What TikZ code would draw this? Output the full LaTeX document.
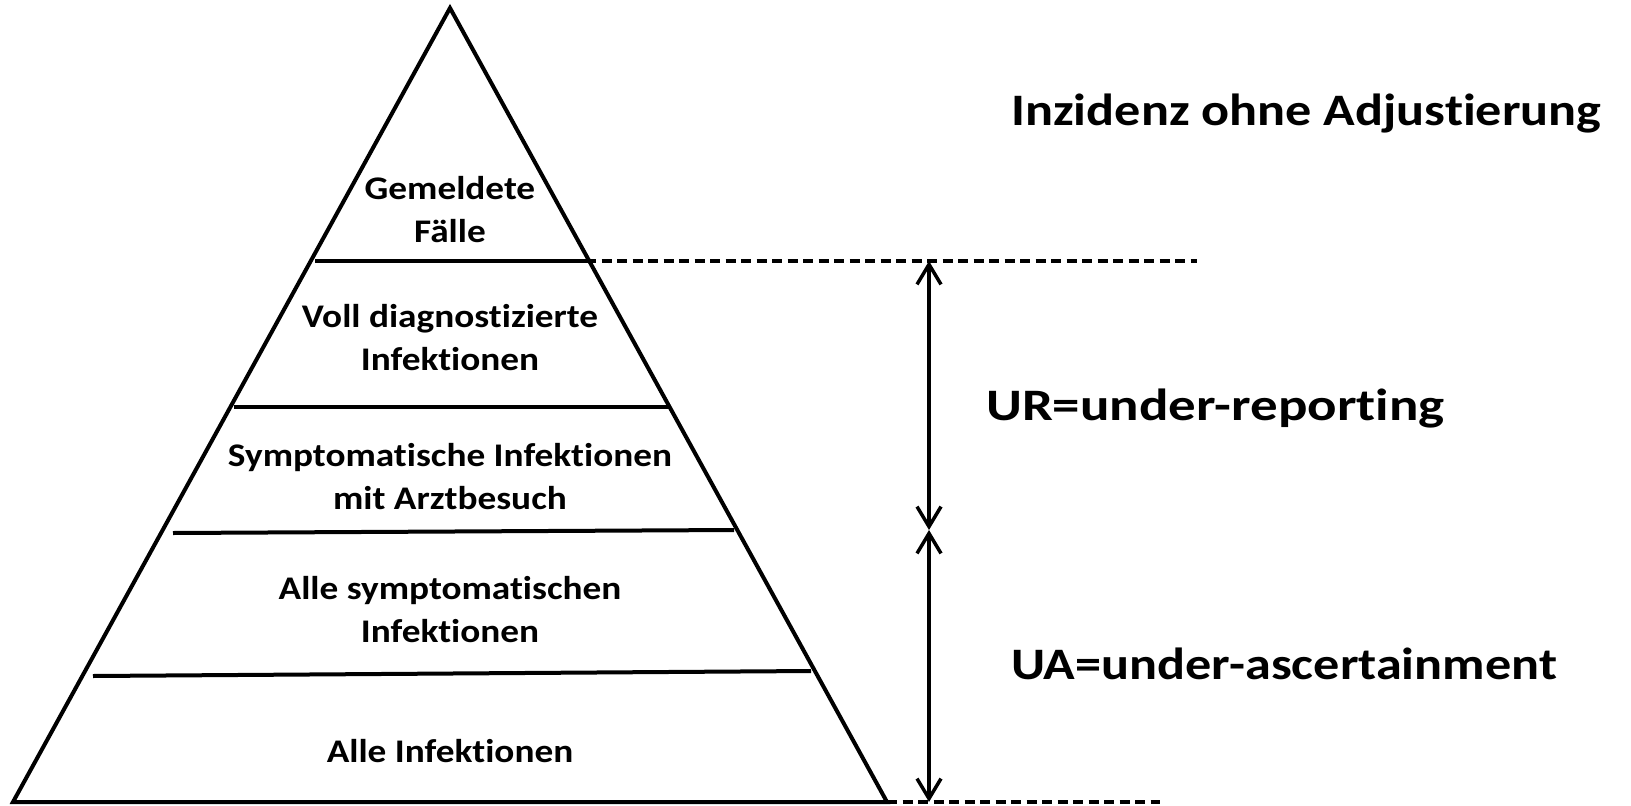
\documentclass[tikz,border=0pt]{standalone}
\usepackage{fontspec}
\setmainfont[Ligatures=NoCommon, FakeStretch=1.13]{Carlito}
\newfontfamily\sidefont[Ligatures=NoCommon, FakeStretch=1.16]{Carlito}
\newfontfamily\urfont[Ligatures=NoCommon, FakeStretch=1.22]{Carlito}
\usepackage{tikz}
\usetikzlibrary{arrows.meta,calc}
\definecolor{ink}{HTML}{000000}
\tikzset{
  lvl/.style={font=\bfseries\fontsize{33}{43}\selectfont, align=center, inner sep=0pt},
  side/.style={font=\sidefont\bfseries\fontsize{45}{54}\selectfont, anchor=base west, inner sep=0pt},
  cut/.style={line width=4pt, ink},
  guide/.style={line width=3.5pt, ink, dash pattern=on 10pt off 5.5pt},
  span/.style={line width=3.5pt, ink, {Straight Barb[length=20pt,width=24pt]}-{Straight Barb[length=20pt,width=24pt]}}
}
\begin{document}
\begin{tikzpicture}[x=1pt, y=-1pt]
\useasboundingbox (0,0) rectangle (1631,806);
% pyramid outline
\coordinate (top) at (450,8);
\coordinate (bl) at (13,802);
\coordinate (br) at (887,802);
\draw[line width=4pt, ink, line join=miter] (bl) -- (top) -- (br) -- cycle;
% layer borders
\draw[cut] (315,261) coordinate (c1l) -- (586,261) coordinate (c1r);
\draw[cut] (234,407) -- (670,407);
\draw[cut] (173,533) -- (734,530);
\draw[cut] (93,676) -- (811,671);
% layer labels
\node[lvl] (gem) at (450,210) {Gemeldete\\Fälle};
\node[lvl] (voll) at (450,338) {Voll diagnostizierte\\Infektionen};
\node[lvl] (arzt) at (450,477) {Symptomatische Infektionen\\mit Arztbesuch};
\node[lvl] (symp) at (450,610) {Alle symptomatischen\\Infektionen};
\node[lvl, anchor=base] (alle) at (450,762) {Alle Infektionen};
% reference lines and spans
\coordinate (dtop) at (1197,261);
\coordinate (dbot) at (1160,802);
\draw[guide] (c1r) -- (dtop);
\draw[guide] (br) -- (dbot);
\coordinate (ur) at (929,261);
\coordinate (mid) at (929,530);
\coordinate (ua) at (929,802);
\draw[span] (ur) -- (mid);
\draw[span] (mid) -- (ua);
% side labels
\node[side] (inz) at (1011,125) {Inzidenz ohne Adjustierung};
\node[side, font=\urfont\bfseries\fontsize{45}{54}\selectfont] (urlab) at (986,420) {UR=under-reporting};
\node[side] (ualab) at (1011,679) {UA=under-ascertainment};
\end{tikzpicture}
\end{document}
